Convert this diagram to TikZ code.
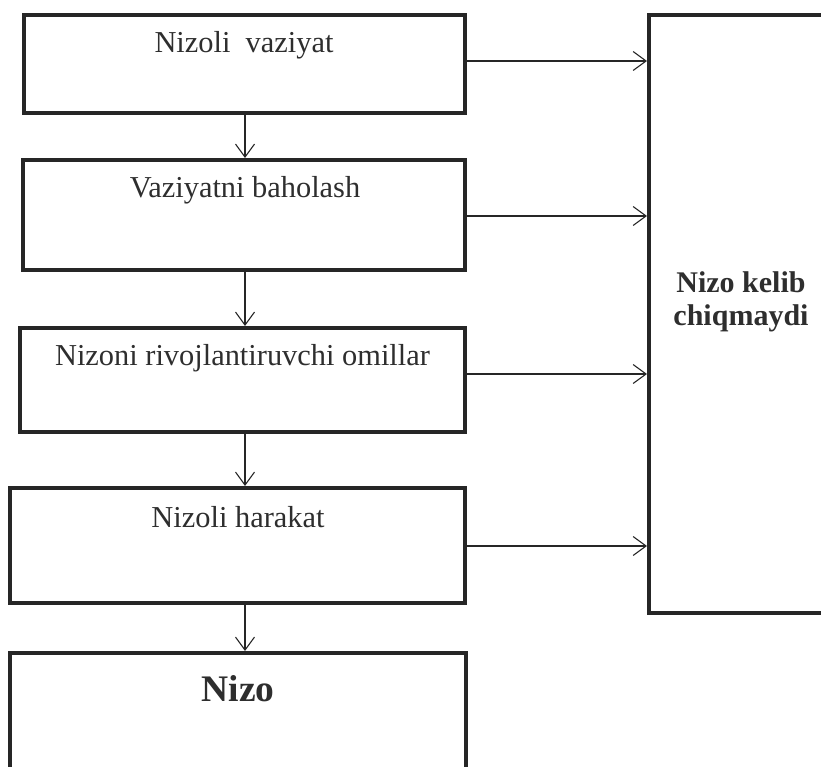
\documentclass[tikz,border=0pt]{standalone}
\usepackage{fontspec}
\setmainfont{Liberation Serif}
\usetikzlibrary{arrows.meta}
\definecolor{ink}{HTML}{262626}
\definecolor{txt}{HTML}{2E2E2E}
\begin{document}
\begin{tikzpicture}[x=1pt,y=-1pt,
  stagebox/.style={draw=ink,line width=3.6pt,rectangle,inner sep=0pt,outer sep=0pt},
  stagetext/.style={anchor=base,inner sep=0pt,text=txt,font=\fontsize{30.4}{33}\selectfont},
  boldtext/.style={anchor=base,inner sep=0pt,text=txt,font=\bfseries\fontsize{30}{33}\selectfont,align=center},
  flow/.style={draw=ink,line width=1.1pt,-{Straight Barb[length=13pt,width=19pt,line width=1.1pt]},shorten >=2pt}]
\useasboundingbox (0,0) rectangle (821,767);
% stages of the left column
\node[stagebox,minimum width=441pt,minimum height=98pt] (b1) at (244.5,64) {};
\node[stagebox,minimum width=442pt,minimum height=110pt] (b2) at (244,215) {};
\node[stagebox,minimum width=445pt,minimum height=104pt] (b3) at (242.5,380) {};
\node[stagebox,minimum width=455pt,minimum height=115pt] (b4) at (237.5,545.5) {};
\node[stagebox,minimum width=456pt,minimum height=140pt] (b5) at (238,723) {};
% outcome box on the right
\node[stagebox,minimum width=221pt,minimum height=598pt] (rb) at (759.5,314) {};
% labels
\node[stagetext] (t1) at (244,53) {Nizoli\ \ vaziyat};
\node[stagetext] (t2) at (245,198) {Vaziyatni baholash};
\node[stagetext] (t3) at (242.5,365) {Nizoni rivojlantiruvchi omillar};
\node[stagetext] (t4) at (238,527) {Nizoli harakat};
\node[anchor=base,inner sep=0pt,text=txt,font=\bfseries\fontsize{37.5}{40}\selectfont] (t5) at (238,701) {Nizo};
\node[boldtext] (tr) at (741,325) {Nizo kelib\\chiqmaydi};
% vertical flow
\coordinate (axis) at (245,0);
\draw[flow] (b1.south -| axis) -- (b2.north -| axis);
\draw[flow] (b2.south -| axis) -- (b3.north -| axis);
\draw[flow] (b3.south -| axis) -- (b4.north -| axis);
\draw[flow] (b4.south -| axis) -- (b5.north -| axis);
% horizontal flow to the outcome
\draw[flow] ([yshift=3pt]b1.east) -- ([yshift=3pt]b1.east -| rb.west);
\draw[flow] ([yshift=-1pt]b2.east) -- ([yshift=-1pt]b2.east -| rb.west);
\draw[flow] ([yshift=6pt]b3.east) -- ([yshift=6pt]b3.east -| rb.west);
\draw[flow] ([yshift=-0.5pt]b4.east) -- ([yshift=-0.5pt]b4.east -| rb.west);
\end{tikzpicture}
\end{document}
